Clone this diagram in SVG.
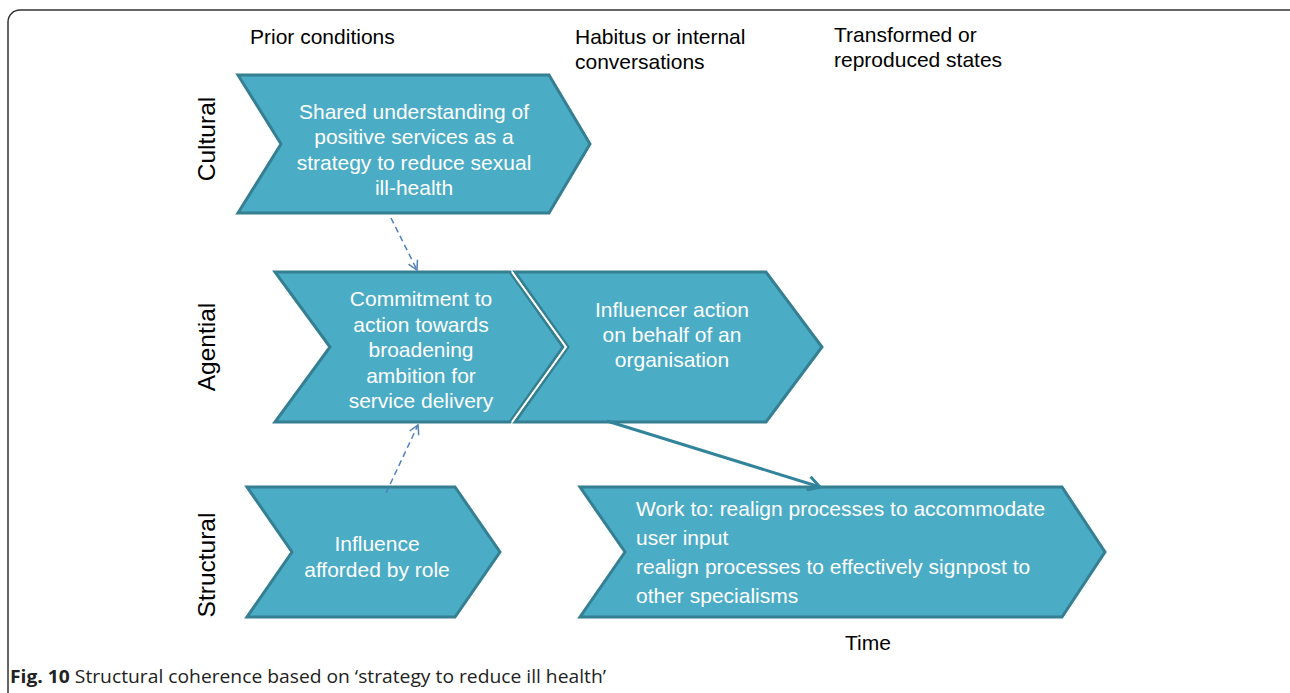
<svg xmlns="http://www.w3.org/2000/svg" width="1290" height="693" viewBox="0 0 1290 693">
<defs>
<style>
.chev{fill:#4bacc6;stroke:#357f92;stroke-width:3;stroke-linejoin:miter}
.hd{font-family:"Liberation Sans",Arial,sans-serif;font-size:21px;fill:#000}
.ct{font-family:"Liberation Sans",Arial,sans-serif;font-size:21px;fill:#fff;text-anchor:middle}
.cl{font-family:"Liberation Sans",Arial,sans-serif;font-size:21px;fill:#fff}
.row{font-family:"Liberation Sans",Arial,sans-serif;font-size:24.5px;fill:#000;text-anchor:middle}
.dash{stroke:#4f81bd;stroke-width:1.5;stroke-dasharray:6 4;fill:none}
.solid{stroke:#31849b;stroke-width:3;fill:none}
</style>
<marker id="openBlue" viewBox="0 0 12 12" refX="10" refY="6" markerWidth="12" markerHeight="12" markerUnits="userSpaceOnUse" orient="auto">
<path d="M1,1 L10,6 L1,11" fill="none" stroke="#4f81bd" stroke-width="1.5"/>
</marker>
<marker id="openTeal" viewBox="0 0 16 16" refX="14" refY="8" markerWidth="16" markerHeight="16" markerUnits="userSpaceOnUse" orient="auto">
<path d="M2,1 L14,8 L2,15" fill="none" stroke="#31849b" stroke-width="3"/>
</marker>
</defs>
<rect x="8" y="10" width="1300" height="700" rx="12" ry="12" fill="#fff" stroke="#333" stroke-width="1.5"/>

<g id="headers">
<text class="hd" x="250" y="44">Prior conditions</text>
<text class="hd" x="575" y="44">Habitus or internal</text>
<text class="hd" x="575" y="69">conversations</text>
<text class="hd" x="834" y="42">Transformed or</text>
<text class="hd" x="834" y="67">reproduced states</text>
<text class="hd" x="845" y="650">Time</text>
</g>

<g id="row-labels">
<text class="row" transform="translate(215,139) rotate(-90)">Cultural</text>
<text class="row" transform="translate(215,347) rotate(-90)">Agential</text>
<text class="row" transform="translate(215,565) rotate(-90)">Structural</text>
</g>

<g id="node-cultural">
<polygon class="chev" points="238,75 549,75 590,144 549,213 238,213 281,144"/>
<text class="ct" x="414" y="119">Shared understanding of</text>
<text class="ct" x="414" y="144">positive services as a</text>
<text class="ct" x="414" y="170">strategy to reduce sexual</text>
<text class="ct" x="414" y="195">ill-health</text>
</g>

<g id="node-commitment">
<polygon class="chev" points="275,272 510,272 563,347 510,422 275,422 330,347"/>
<text class="ct" x="421" y="306">Commitment to</text>
<text class="ct" x="421" y="332">action towards</text>
<text class="ct" x="421" y="357">broadening</text>
<text class="ct" x="421" y="383">ambition for</text>
<text class="ct" x="421" y="408">service delivery</text>
</g>

<g id="node-influencer">
<polygon class="chev" points="515,272 766,272 822,347 766,422 515,422 568,347"/>
<polyline points="512,272 566,347 512,422" fill="none" stroke="#fff" stroke-width="2"/>
<text class="ct" x="672" y="317">Influencer action</text>
<text class="ct" x="672" y="342">on behalf of an</text>
<text class="ct" x="672" y="367">organisation</text>
</g>

<g id="node-influence">
<polygon class="chev" points="247,487 455,487 500,552 455,617 247,617 292,552"/>
<text class="ct" x="377" y="551">Influence</text>
<text class="ct" x="377" y="577">afforded by role</text>
</g>

<g id="node-work">
<polygon class="chev" points="580,487 1062,487 1105,552 1062,617 580,617 625,552"/>
<text class="cl" x="636" y="516">Work to: realign processes to accommodate</text>
<text class="cl" x="636" y="545">user input</text>
<text class="cl" x="636" y="574">realign processes to effectively signpost to</text>
<text class="cl" x="636" y="603">other specialisms</text>
</g>

<g id="connectors">
<line class="dash" x1="391" y1="218" x2="417" y2="270" marker-end="url(#openBlue)"/>
<line class="dash" x1="386" y1="493" x2="418" y2="425" marker-end="url(#openBlue)"/>
<line class="solid" x1="607" y1="421" x2="820" y2="487" marker-end="url(#openTeal)"/>
</g>

<g id="caption">
<text x="10" y="683" font-family="'Open Sans',sans-serif" font-size="18" fill="#222" textLength="596" lengthAdjust="spacingAndGlyphs"><tspan font-weight="bold">Fig. 10</tspan> Structural coherence based on ‘strategy to reduce ill health’</text>
</g>
</svg>
